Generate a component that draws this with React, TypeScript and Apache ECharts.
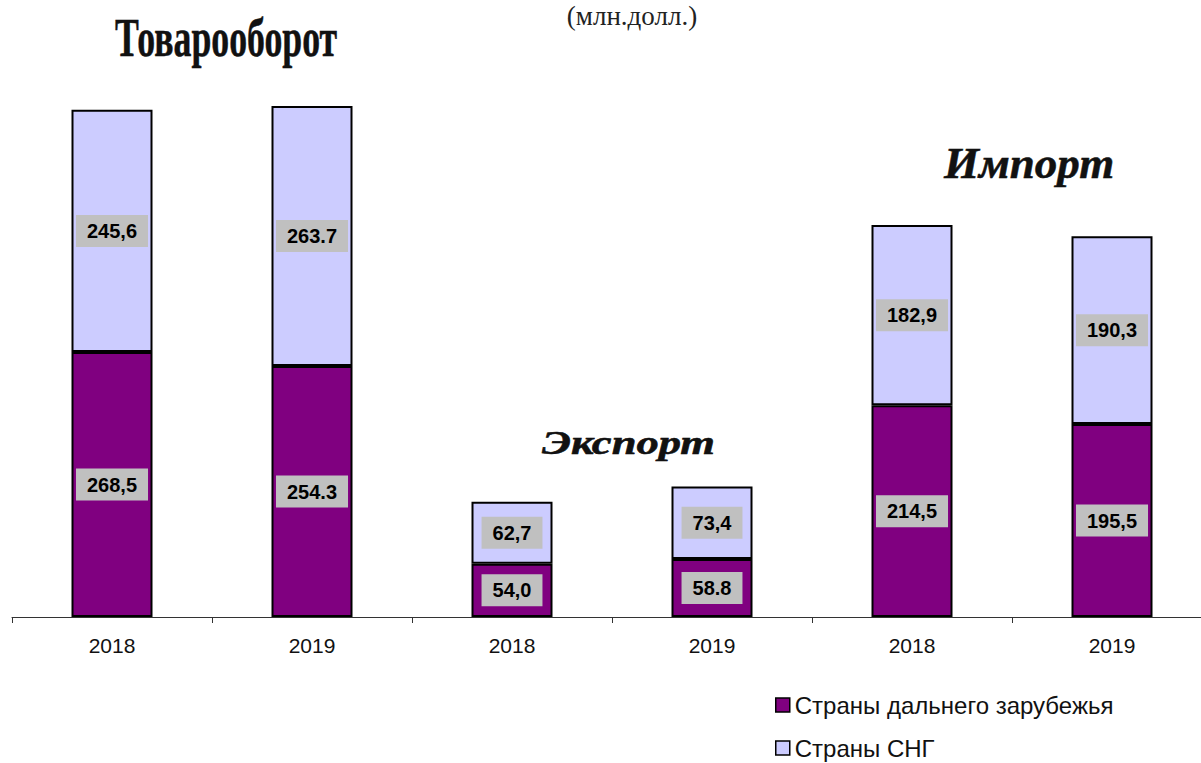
import React, { useEffect, useRef } from "react";
import * as echarts from "echarts";

const categories = ["2018", "2019", "2018", "2019", "2018", "2019"];
const farAbroad = [268.5, 254.3, 54.0, 58.8, 214.5, 195.5];
const cis = [245.6, 263.7, 62.7, 73.4, 182.9, 190.3];
const farAbroadLabels = ["268,5", "254.3", "54,0", "58.8", "214,5", "195,5"];
const cisLabels = ["245,6", "263.7", "62,7", "73,4", "182,9", "190,3"];
const seriesNames = ["Страны дальнего зарубежья", "Страны СНГ"];

export default function App() {
  const ref = useRef<HTMLDivElement>(null);
  useEffect(() => {
    document.body.style.margin = "0";
    document.body.style.overflow = "hidden";
    const chart = echarts.init(ref.current!, null, { renderer: "svg" });
    const labelStyle = {
      show: true,
      position: "inside",
      fontFamily: "Liberation Sans",
      fontWeight: "bold",
      fontSize: 20,
      color: "#000",
      backgroundColor: "#c0c0c0",
      padding: [6, 11, 6, 11],
    };
    chart.setOption({
      animation: false,
      grid: { left: 12, right: 0, top: 25, bottom: 146 },
      xAxis: {
        type: "category",
        data: categories,
        axisLine: { lineStyle: { color: "#333", width: 1 } },
        axisTick: { show: true, length: 6, lineStyle: { color: "#333" } },
        axisLabel: {
          fontFamily: "Liberation Sans",
          fontSize: 21,
          color: "#111",
          margin: 18,
        },
      },
      yAxis: {
        type: "value",
        min: 0,
        max: 600,
        show: false,
      },
      legend: {
        orient: "vertical",
        left: 775,
        top: 693,
        itemGap: 19,
        itemWidth: 14,
        itemHeight: 14,
        itemTextGap: 6,
        padding: 0,
        icon: "rect",
        data: seriesNames,
        itemStyle: { borderColor: "#000", borderWidth: 1.5 },
        textStyle: { fontFamily: "Liberation Sans", fontSize: 24, color: "#111" },
      },
      series: [
        {
          name: seriesNames[0],
          type: "bar",
          stack: "total",
          barWidth: 81,
          data: farAbroad,
          itemStyle: { color: "#800080", borderColor: "#000", borderWidth: 2 },
          label: { ...labelStyle, formatter: (p: any) => farAbroadLabels[p.dataIndex] },
        },
        {
          name: seriesNames[1],
          type: "bar",
          stack: "total",
          barWidth: 81,
          data: cis,
          itemStyle: { color: "#ccccff", borderColor: "#000", borderWidth: 2 },
          label: { ...labelStyle, formatter: (p: any) => cisLabels[p.dataIndex] },
        },
      ],
      graphic: [
        {
          type: "text",
          x: 115,
          y: 38,
          scaleX: 0.65,
          style: {
            text: "Товарооборот",
            fontFamily: "Liberation Serif",
            fontWeight: "bold",
            fontSize: 55,
            fill: "#111",
            stroke: "#000",
            lineWidth: 0.5,
            textAlign: "left",
            textVerticalAlign: "middle",
          },
        },
        {
          type: "text",
          x: 632,
          y: 16,
          style: {
            text: "(млн.долл.)",
            fontFamily: "Liberation Serif",
            fontSize: 27,
            fill: "#222",
            textAlign: "center",
            textVerticalAlign: "middle",
          },
        },
        {
          type: "text",
          x: 944,
          y: 163,
          style: {
            text: "Импорт",
            fontFamily: "Liberation Serif",
            fontWeight: "bold",
            fontStyle: "italic",
            fontSize: 45,
            fill: "#111",
            stroke: "#000",
            lineWidth: 0.5,
            textAlign: "left",
            textVerticalAlign: "middle",
          },
        },
        {
          type: "text",
          x: 542,
          y: 443,
          scaleX: 1.35,
          style: {
            text: "Экспорт",
            fontFamily: "Liberation Serif",
            fontWeight: "bold",
            fontStyle: "italic",
            fontSize: 33,
            fill: "#111",
            stroke: "#000",
            lineWidth: 0.5,
            textAlign: "left",
            textVerticalAlign: "middle",
          },
        },
      ],
    });
    return () => chart.dispose();
  }, []);
  return <div ref={ref} style={{ width: 1212, height: 763 }} />;
}
